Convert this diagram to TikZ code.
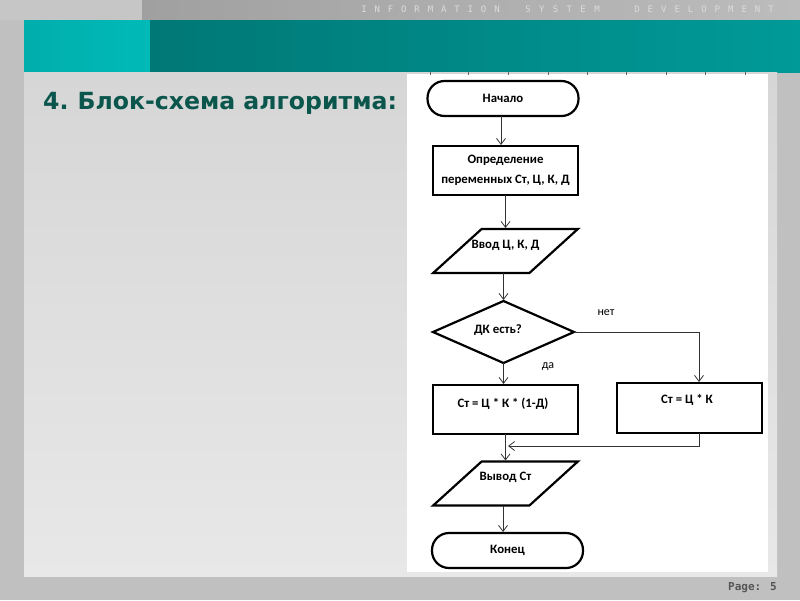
\documentclass[tikz,border=0pt]{standalone}
\usepackage{fontspec}
\setmainfont{Carlito}
\newfontfamily\titlefont{DejaVu Sans}
\newfontfamily\monofont{DejaVu Sans Mono}
\usetikzlibrary{shapes.geometric,arrows.meta,calc}
\definecolor{bgc}{HTML}{C0C0C0}
\definecolor{topl}{HTML}{C6C6C6}
\definecolor{topdA}{HTML}{A0A0A0}
\definecolor{topdB}{HTML}{BCBCBC}
\definecolor{tealA}{HTML}{00AEAC}
\definecolor{tealB}{HTML}{00BAB8}
\definecolor{tealC}{HTML}{007876}
\definecolor{tealD}{HTML}{009A98}
\definecolor{contA}{HTML}{D6D6D6}
\definecolor{contB}{HTML}{E8E8E8}
\definecolor{titlec}{HTML}{0B564C}
\definecolor{pagec}{HTML}{555555}
\definecolor{lettc}{HTML}{DCDCDC}
\begin{document}
\begin{tikzpicture}[x=1pt,y=-1pt,
  fc/.style={draw=black, line width=2.2pt, fill=white, inner sep=0pt, outer sep=0pt, font=\bfseries\fontsize{12.8}{20}\selectfont},
  lab/.style={font=\bfseries\fontsize{12.8}{20}\selectfont, inner sep=0pt},
  term/.style={fc, rectangle, rounded corners=17pt, minimum width=151pt, minimum height=35pt},
  proc/.style={fc, rectangle, minimum width=145pt, minimum height=49pt},
  iobox/.style={fc, trapezium, inner sep=2pt, trapezium left angle=56.6, trapezium right angle=123.4, trapezium stretches=true, minimum width=145pt, minimum height=44pt},
  dec/.style={fc, diamond, minimum width=141pt, minimum height=62pt},
  arr/.style={draw=black!80, line width=0.8pt, shorten >=1pt, -{Straight Barb[length=6pt,width=9pt]}},
  toplet/.style={font=\monofont\fontsize{9}{10}\selectfont, text=lettc, inner sep=0pt},
  edgelab/.style={font=\fontsize{12}{14}\selectfont, inner sep=0pt}
]
\useasboundingbox (0,0) rectangle (800,600);
% background
\fill[bgc] (0,0) rectangle (800,600);
\fill[topl] (0,0) rectangle (142,20);
\shade[left color=topdA,right color=topdB] (142,0) rectangle (800,20);
\shade[left color=tealA,right color=tealB] (24,20) rectangle (150,72);
\shade[left color=tealC,right color=tealD] (150,20) rectangle (800,72);
\shade[top color=contA,bottom color=contB] (24,72) rectangle (777,576);
\fill[white] (407,74) rectangle (768,572);
\foreach \x in {430,468,508,548,587,626,666,705,745}
  \draw[black!60, line width=0.6pt] (\x,72) -- (\x,75);
% top lettering
\foreach \c [count=\i from 0] in {I,N,F,O,R,M,A,T,I,O,N}
  \node[toplet] (ta\i) at (364+13.3*\i,9) {\c};
\foreach \c [count=\i from 0] in {S,Y,S,T,E,M}
  \node[toplet] (tb\i) at (528+13.8*\i,9) {\c};
\foreach \c [count=\i from 0] in {D,E,V,E,L,O,P,M,E,N,T}
  \node[toplet] (tc\i) at (637+13.4*\i,9) {\c};
% title
\node[anchor=west, text=titlec, font=\titlefont\bfseries\fontsize{23.6}{28}\selectfont, inner sep=0pt] (title) at (43,103) {4.\hspace{-2pt} Блок-схема алгоритма:};
\node[anchor=east, font=\monofont\bfseries\fontsize{11}{13}\selectfont, text=pagec, inner sep=0pt] (page) at (777,588) {Page: 5};
% flowchart
\node[term] (start) at (503,98.5) {Начало};
\node[proc, align=center] (def) at (505.5,170.5) {Определение\\переменных Ст, Ц, К, Д};
\node[iobox, label={[name=inT, lab, yshift=6pt]center:Ввод Ц, К, Д}] (in) at (505.5,251) {\hspace{4pt}\vphantom{X}};
\node[dec, label={[name=dkT, lab, xshift=-5.5pt, yshift=2pt]center:ДК есть?}] (dk) at (503.5,332) {};
\node[proc, label={[name=bLT, lab, xshift=-2.5pt, yshift=5.5pt]center:Ст = Ц * К * (1-Д)}] (bL) at (505.5,409.5) {};
\node[proc, minimum height=50pt, label={[name=bRT, lab, xshift=-2.5pt, yshift=8pt]center:Ст = Ц * К}] (bR) at (689.5,408) {};
\node[iobox, label={[name=outT, lab, yshift=6.5pt]center:Вывод Ст}] (out) at (505.5,483.5) {\hspace{4pt}\vphantom{X}};
\node[term] (end) at (507.5,550.5) {Конец};
\node[edgelab] (lno) at (606,313) {нет};
\node[edgelab] (lyes) at (548,367) {да};
\coordinate (mrg) at (507,446);
% connectors
\draw[arr] ([xshift=-2pt]start.south) -- ([xshift=-2pt]start.south |- def.north);
\draw[arr] (def.south) -- (def.south |- in.north);
\draw[arr] (in.south -| dk.north) -- (dk.north);
\draw[arr] (dk.south) -- (dk.south |- bL.north);
\draw[arr] (dk.east) -| ([xshift=9.5pt]bR.north);
\draw[arr] ([xshift=9.5pt]bR.south) |- (mrg);
\draw[arr] (bL.south) -- (bL.south |- out.north);
\draw[arr] ([xshift=-2.5pt]out.south) -- ([xshift=-2.5pt]out.south |- end.north);
\end{tikzpicture}
\end{document}
